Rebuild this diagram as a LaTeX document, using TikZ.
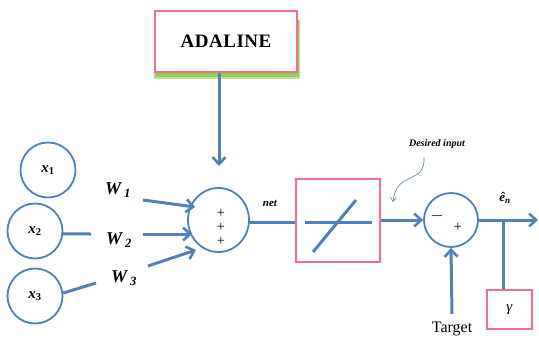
\documentclass[tikz,border=0pt]{standalone}
\usepackage{fontspec}
\setmainfont{Liberation Serif}
\usetikzlibrary{arrows.meta,shapes.geometric}
\definecolor{lblue}{RGB}{79,129,189}
\definecolor{lpink}{RGB}{255,102,153}
\definecolor{lgreen}{RGB}{146,208,80}
\tikzset{
  wire/.style={draw=lblue,line width=3pt},
  arr/.style={wire,-{Straight Barb[length=7pt,width=13pt,line width=2.6pt]}},
  ring/.style={circle,draw=lblue,line width=1.8pt,minimum size=54pt,inner sep=0pt},
  pinkbox/.style={draw=lpink,line width=2.6pt,fill=white,inner sep=0pt},
  lab/.style={font=\bfseries\itshape,inner sep=1pt},
}
\begin{document}
\begin{tikzpicture}[x=1pt,y=-1pt]
\useasboundingbox (0,0) rectangle (539,340);
% ADALINE
\fill[lgreen!60] (154,20) rectangle (300,79);
\fill[lgreen] (155,20) rectangle (299,77);
\node[pinkbox,minimum width=142pt,minimum height=61pt,font=\fontsize{19}{22}\selectfont\bfseries] (ada) at (226,41.5) {A\kern0.5pt D\kern0.5pt A\kern0.5pt L\kern0.5pt I\kern0.5pt N\kern0.5pt E};
% inputs
\node[ring,minimum size=55pt] (x1) at (48,170) {\fontsize{15}{17}\selectfont\textbf{\textit{x}}\textsubscript{\textbf{1}}};
\node[ring,minimum size=55pt] (x2) at (35,231) {\fontsize{15}{17}\selectfont\textbf{\textit{x}}\textsubscript{\textbf{2}}};
\node[ring,minimum size=55pt] (x3) at (35,296) {\fontsize{15}{17}\selectfont\textbf{\textit{x}}\textsubscript{\textbf{3}}};
\node[lab,font=\fontsize{18}{20}\selectfont\bfseries\itshape] (w1) at (118,190) {W\,\textsubscript{1}};
\node[lab,font=\fontsize{18}{20}\selectfont\bfseries\itshape] (w2) at (119,240) {W\,\textsubscript{2}};
\node[lab,font=\fontsize{18}{20}\selectfont\bfseries\itshape] (w3) at (124,278) {W\,\textsubscript{3}};
% sum
\node[ellipse,draw=lblue,line width=1.8pt,minimum width=61pt,minimum height=64pt,inner sep=0pt] (sum) at (218.5,220) {};
\node[font=\Large,text=black] (p1) at (221,213) {+};
\node[font=\Large,text=black] (p2) at (221,227) {+};
\node[font=\Large,text=black] (p3) at (221,241) {+};
% activation box
\node[pinkbox,minimum width=84pt,minimum height=83pt] (act) at (338,220.5) {};
\coordinate (h1) at (305,222);
\coordinate (h2) at (372,222);
\coordinate (d1) at (313,252);
\coordinate (d2) at (356,200);
\draw[wire] (h1) -- (h2);
\draw[wire] (d1) -- (d2);
\node[lab,font=\fontsize{11}{13}\selectfont\bfseries\itshape] (net) at (270,203) {net};
% subtract circle
\node[ring] (sub) at (451,220) {};
\node[font=\LARGE] (minus) at (437,216) {$-$};
\node[font=\Large] (plus) at (458,227) {+};
\node[lab,font=\fontsize{13}{15}\selectfont\bfseries\itshape] (en) at (505,198) {ê\textsubscript{\textit{n}}};
\node[lab,font=\fontsize{10}{12}\selectfont\bfseries\itshape] (des) at (437,144) {Desired input};
% gamma
\node[pinkbox,minimum width=45pt,minimum height=39pt] (gam) at (509.5,309.5) {\fontsize{15}{17}\selectfont\textit{γ}};
% target
\node[font=\fontsize{16}{18}\selectfont,anchor=north,inner sep=0pt] (tgt) at (452,322) {Target};
\coordinate (tstart) at (452,314);
\coordinate (out) at (538,220);
\coordinate (br) at (503,220);
% connectors
\draw[arr] (ada.south -| 219,0) -- (219,166);
\draw[wire] (x2.-6) -- (91,234);
\draw[wire] (x3.6) -- (96,283);
\draw[arr] (143,200) -- (195,207);
\draw[arr] (143,234) -- (192,234);
\draw[arr] (148,266) -- (196,250);
\draw[wire] (sum.east) ++(0,2) -- (act.west |- 0,222);
\draw[arr] (act.east |- sub.west) -- (sub.west);
\draw[wire] (sub.east) -- (br);
\draw[arr] (br) -- (out);
\draw[wire] (br) -- (gam.north -| br);
\draw[arr] (tstart) -- (sub.south);
\draw[draw=lblue,line width=0.6pt,-{Straight Barb[length=4pt,width=6pt]}] (424,157) .. controls (426,185) and (396,170) .. (393,202);
\end{tikzpicture}
\end{document}
